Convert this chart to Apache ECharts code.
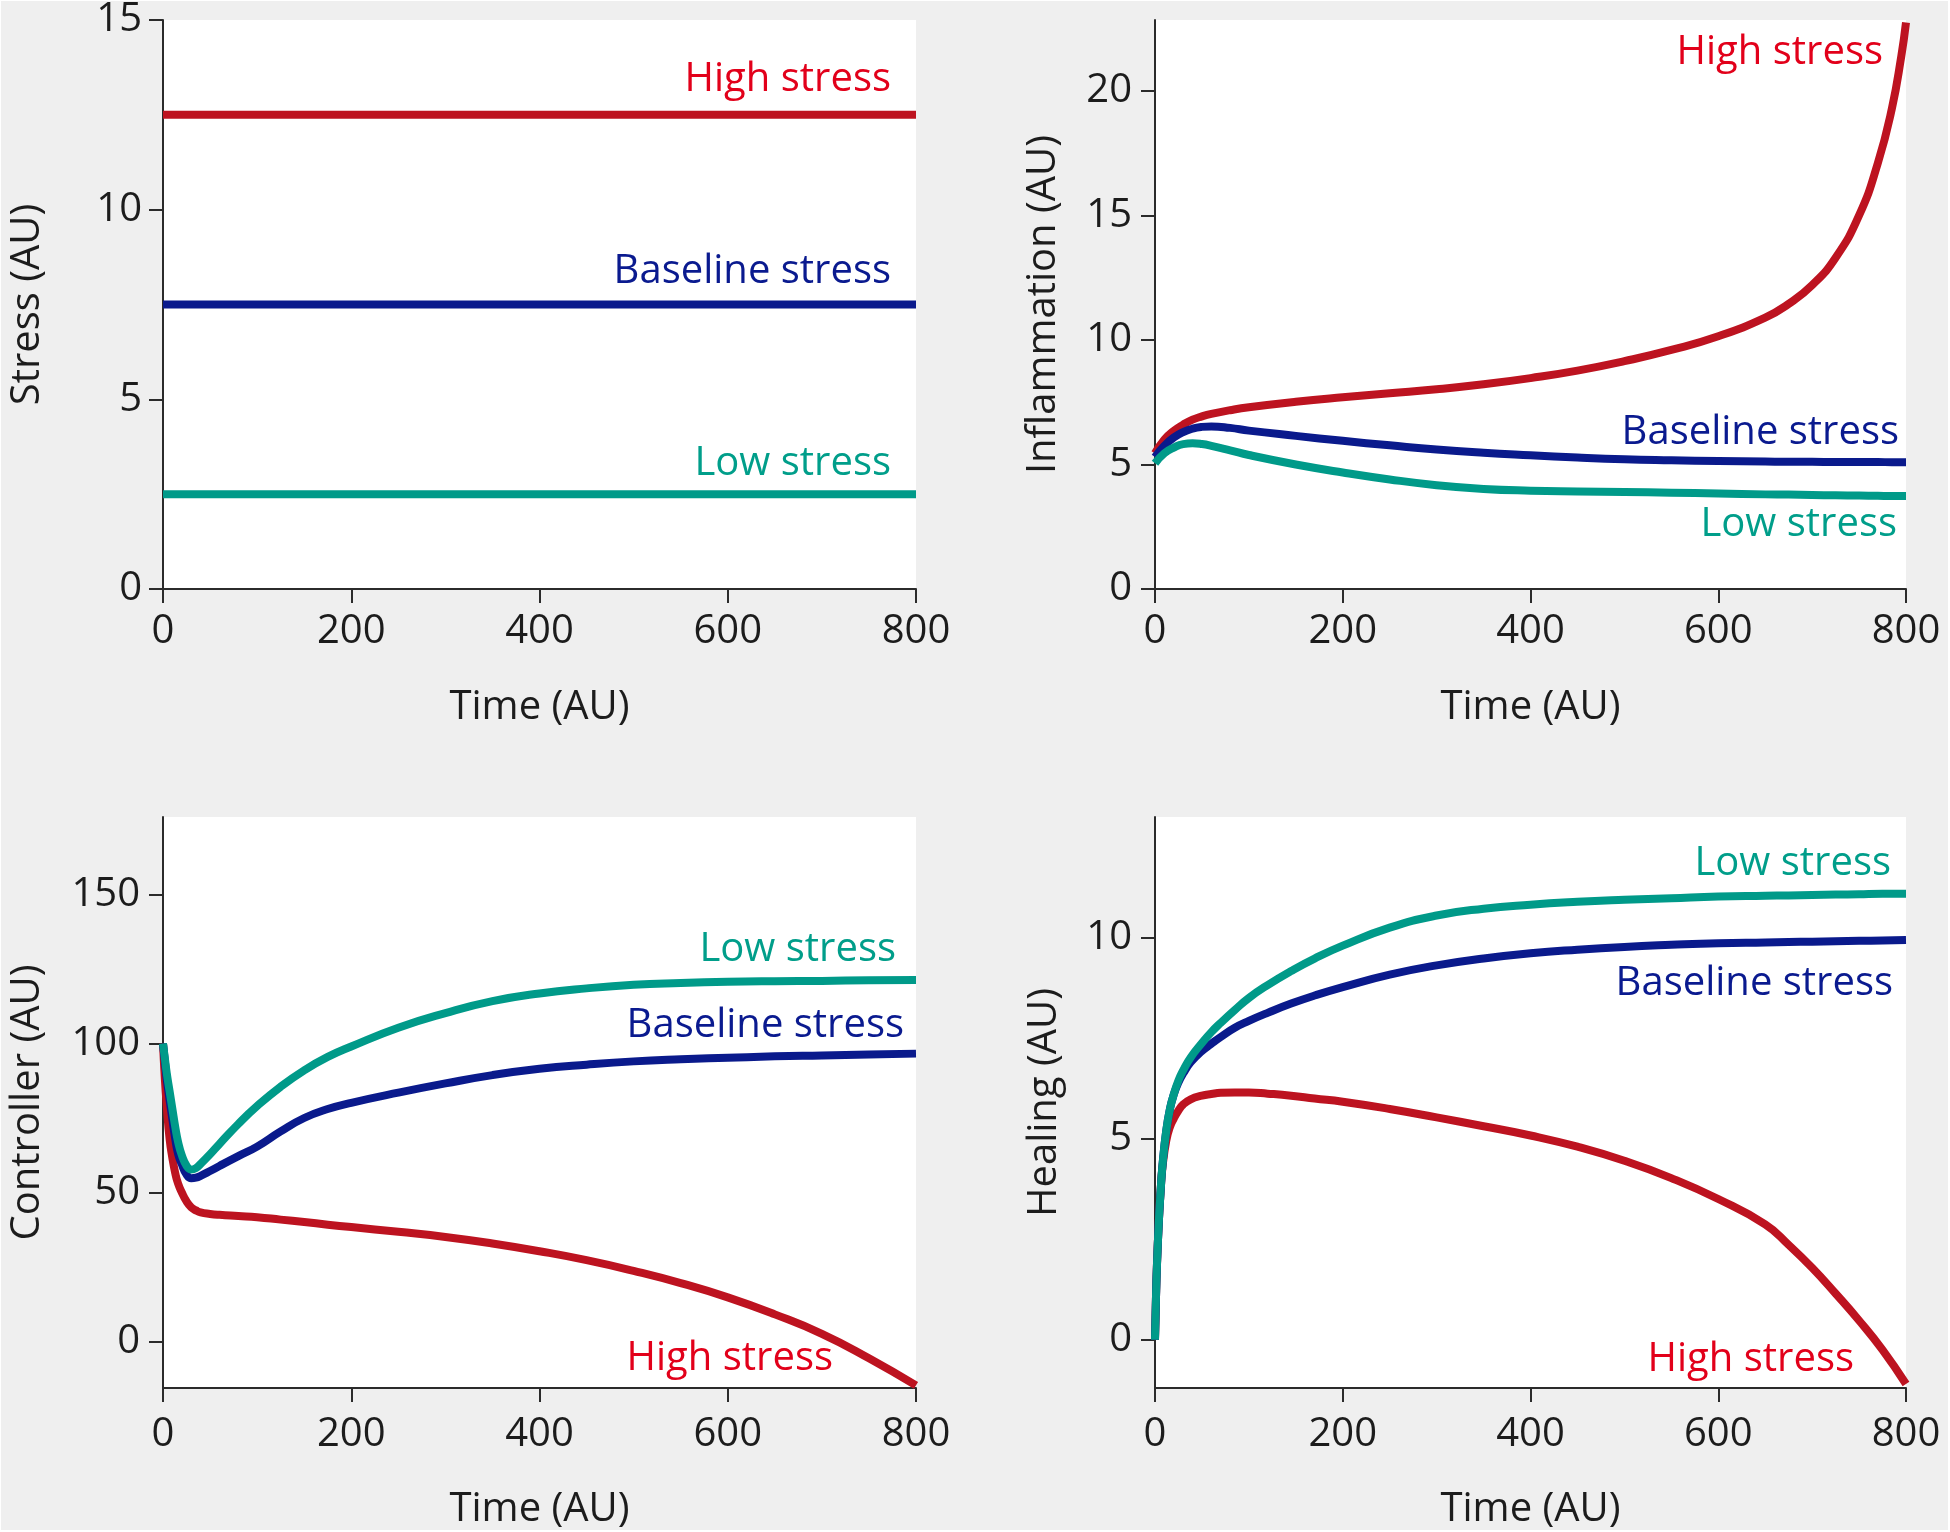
<!DOCTYPE html>
<html>
<head>
<meta charset="utf-8">
<script src="https://cdn.jsdelivr.net/npm/echarts@6/dist/echarts.min.js"></script>
<style>
html,body{margin:0;padding:0;background:#fff;}
#c{width:1950px;height:1532px;}
</style>
</head>
<body>
<div id="c"></div>
<script>
// ---------- DATA ----------
const timeTicks = [0, 200, 400, 600, 800];

// Panel A: Stress
const stressTime = [0, 800];
const stressHigh = [12.5, 12.5];
const stressBase = [7.5, 7.5];
const stressLow = [2.5, 2.5];
const stressTicks = [0, 5, 10, 15];

// Panel B: Inflammation
const inflTime = [0, 10, 20, 30, 40, 50, 60, 80, 100, 150, 200, 250, 300, 350, 400, 450, 500, 550, 600, 650, 675, 700, 725, 750, 770, 785, 795, 800];
const inflHigh = [5.45, 6.0, 6.35, 6.6, 6.8, 6.93, 7.03, 7.18, 7.3, 7.52, 7.7, 7.86, 8.02, 8.22, 8.47, 8.77, 9.15, 9.6, 10.15, 10.9, 11.45, 12.2, 13.3, 15.0, 17.1, 19.3, 21.4, 22.75];
const inflBase = [5.3, 5.75, 6.08, 6.3, 6.44, 6.51, 6.53, 6.47, 6.36, 6.15, 5.95, 5.77, 5.6, 5.47, 5.37, 5.28, 5.21, 5.17, 5.14, 5.12, 5.11, 5.11, 5.1, 5.1, 5.1, 5.09, 5.09, 5.09];
const inflLow = [5.05, 5.45, 5.68, 5.82, 5.85, 5.82, 5.75, 5.57, 5.38, 5.0, 4.68, 4.4, 4.17, 4.02, 3.95, 3.92, 3.9, 3.87, 3.84, 3.8, 3.79, 3.77, 3.76, 3.75, 3.74, 3.73, 3.73, 3.73];
const inflTicks = [0, 5, 10, 15, 20];

// Panel C: Controller
const ctrlTime = [0, 2, 4, 7, 10, 13, 16, 20, 25, 30, 35, 40, 50, 60, 80, 100, 125, 150, 175, 200, 250, 300, 350, 400, 450, 500, 550, 600, 650, 700, 750, 800];
const ctrlHigh = [100, 88, 79, 68, 61.5, 56.5, 53, 50, 47, 45, 44, 43.3, 42.8, 42.5, 42.1, 41.7, 40.9, 40.1, 39.2, 38.4, 36.8, 35.1, 32.9, 30.3, 27.3, 23.7, 19.6, 14.8, 9.1, 2.6, -5.6, -14.7];
const ctrlBase = [100, 94, 88, 81, 74.5, 68, 63, 59.5, 56, 54.8, 55, 55.6, 57.2, 58.9, 62.2, 65.4, 70.5, 75, 78, 80.1, 83.5, 86.6, 89.4, 91.5, 92.9, 94, 94.7, 95.2, 95.7, 96.0, 96.3, 96.6];
const ctrlLow = [100, 95, 90, 84, 78, 72, 67, 62.5, 59, 57.7, 58.2, 59.6, 62.8, 66.3, 73, 79, 85.5, 91, 95.5, 99, 105.3, 110.2, 114.2, 116.8, 118.5, 119.7, 120.3, 120.7, 120.9, 121.0, 121.2, 121.3];
const ctrlTicks = [0, 50, 100, 150];

// Panel D: Healing
const healTime = [0, 1, 2, 4, 6, 8, 12, 16, 20, 25, 30, 38, 50, 60, 70, 85, 100, 120, 145, 170, 200, 250, 300, 350, 400, 450, 500, 550, 600, 650, 675, 700, 725, 750, 775, 800];
const healHigh = [0, 1.0, 1.8, 2.9, 3.7, 4.3, 4.95, 5.3, 5.5, 5.7, 5.85, 5.98, 6.07, 6.11, 6.14, 6.15, 6.15, 6.12, 6.07, 6.0, 5.92, 5.74, 5.53, 5.31, 5.08, 4.8, 4.45, 4.02, 3.5, 2.87, 2.36, 1.79, 1.15, 0.48, -0.25, -1.1];
const healBase = [0, 1.0, 1.8, 2.9, 3.7, 4.35, 5.2, 5.75, 6.1, 6.4, 6.62, 6.9, 7.18, 7.36, 7.53, 7.76, 7.93, 8.13, 8.36, 8.56, 8.77, 9.08, 9.31, 9.48, 9.61, 9.7, 9.77, 9.82, 9.86, 9.88, 9.89, 9.9, 9.91, 9.92, 9.93, 9.94];
const healLow = [0, 1.0, 1.8, 2.9, 3.7, 4.35, 5.2, 5.75, 6.1, 6.45, 6.7, 7.02, 7.38, 7.65, 7.88, 8.2, 8.5, 8.82, 9.17, 9.48, 9.8, 10.25, 10.55, 10.72, 10.82, 10.89, 10.94, 10.98, 11.02, 11.04, 11.05, 11.06, 11.07, 11.08, 11.09, 11.09];
const healTicks = [0, 5, 10];

const seriesNames = ['High stress', 'Baseline stress', 'Low stress'];
const yTitles = ['Stress (AU)', 'Inflammation (AU)', 'Controller (AU)', 'Healing (AU)'];
const xTitle = 'Time (AU)';

// ---------- STYLE ----------
const FONT = '"Open Sans", "DejaVu Sans", sans-serif';
const LINE_COLORS = ['#bd1320', '#0a1a8c', '#009a89'];
const TEXT_COLORS = ['#e2001a', '#0a1a8f', '#009e8a'];
const AXIS_COLOR = '#2b2b2b';
const TXT = '#1c1c1c';

function pairs(t, v) { return t.map((x, i) => [x, v[i]]); }

const grids = [
  { left: 163, top: 20, width: 753, height: 569 },
  { left: 1155, top: 20, width: 751, height: 569 },
  { left: 163, top: 817, width: 753, height: 571 },
  { left: 1155, top: 817, width: 751, height: 571 }
].map(g => Object.assign({ show: true, backgroundColor: '#ffffff', borderWidth: 0 }, g));

function xAxisFor(i, margin, nameGap) {
  return {
    type: 'value', gridIndex: i, min: 0, max: 800, interval: 200,
    axisLine: { onZero: false, lineStyle: { color: AXIS_COLOR, width: 2 } },
    axisTick: { length: 14, lineStyle: { color: AXIS_COLOR, width: 2 } },
    axisLabel: { fontSize: 40, fontFamily: FONT, color: TXT, margin: margin,
                 customValues: timeTicks },
    splitLine: { show: false },
    name: xTitle, nameLocation: 'middle', nameGap: nameGap,
    nameTextStyle: { fontSize: 40, fontFamily: FONT, color: TXT }
  };
}
function yAxisFor(i, min, max, ticks, name, nameGap, margin) {
  return {
    type: 'value', gridIndex: i, min: min, max: max,
    axisLine: { show: true, onZero: false, lineStyle: { color: AXIS_COLOR, width: 2 } },
    axisTick: { show: true, length: 14, lineStyle: { color: AXIS_COLOR, width: 2 }, customValues: ticks },
    axisLabel: { fontSize: 40, fontFamily: FONT, color: TXT, margin: margin, customValues: ticks,
                 padding: [11, 0, 0, 0] },
    splitLine: { show: false },
    name: name, nameLocation: 'middle', nameGap: nameGap,
    nameTextStyle: { fontSize: 40, fontFamily: FONT, color: TXT }
  };
}

const panels = [
  { t: stressTime, vals: [stressHigh, stressBase, stressLow] },
  { t: inflTime, vals: [inflHigh, inflBase, inflLow] },
  { t: ctrlTime, vals: [ctrlHigh, ctrlBase, ctrlLow] },
  { t: healTime, vals: [healHigh, healBase, healLow] }
];

const series = [];
panels.forEach((p, i) => {
  p.vals.forEach((v, k) => {
    series.push({
      type: 'line', name: seriesNames[k] + ' ' + i,
      xAxisIndex: i, yAxisIndex: i,
      data: pairs(p.t, v),
      showSymbol: false, symbol: 'none',
      smooth: 0.5,
      lineStyle: { color: LINE_COLORS[k], width: 8, cap: 'butt', join: 'round' },
      z: 2 + k
    });
  });
});

// in-plot labels: [text index, right x, middle y]
const labelPos = [
  [0, 891, 80], [1, 891, 272], [2, 891, 464],
  [0, 1883, 53], [1, 1899, 433], [2, 1897, 525],
  [2, 896, 950], [1, 904, 1026], [0, 833, 1359],
  [2, 1891, 864], [1, 1893, 984], [0, 1854, 1360]
];
const graphics = [{
  type: 'rect', z: -100, silent: true,
  shape: { x: 1, y: 1, width: 1947, height: 1529 },
  style: { fill: '#efefef' }
}];
labelPos.forEach(([k, x, y]) => {
  graphics.push({
    type: 'text', z: 100, silent: true,
    style: { text: seriesNames[k], x: x, y: y, fill: TEXT_COLORS[k],
             font: '40px ' + FONT, align: 'right', verticalAlign: 'middle' }
  });
});

const option = {
  animation: false,
  backgroundColor: '#ffffff',
  textStyle: { fontFamily: FONT },
  grid: grids,
  xAxis: [xAxisFor(0, 23, 99), xAxisFor(1, 23, 99), xAxisFor(2, 27, 102), xAxisFor(3, 27, 102)],
  yAxis: [
    yAxisFor(0, 0, 15, stressTicks, yTitles[0], 115, 21),
    yAxisFor(1, 0, 22.85, inflTicks, yTitles[1], 91, 23),
    yAxisFor(2, -15.6, 176, ctrlTicks, yTitles[2], 115, 23),
    yAxisFor(3, -1.2, 13, healTicks, yTitles[3], 90, 23)
  ],
  series: series,
  graphic: graphics
};

const chart = echarts.init(document.getElementById('c'), null, { renderer: 'canvas' });
chart.setOption(option);
</script>
</body>
</html>
